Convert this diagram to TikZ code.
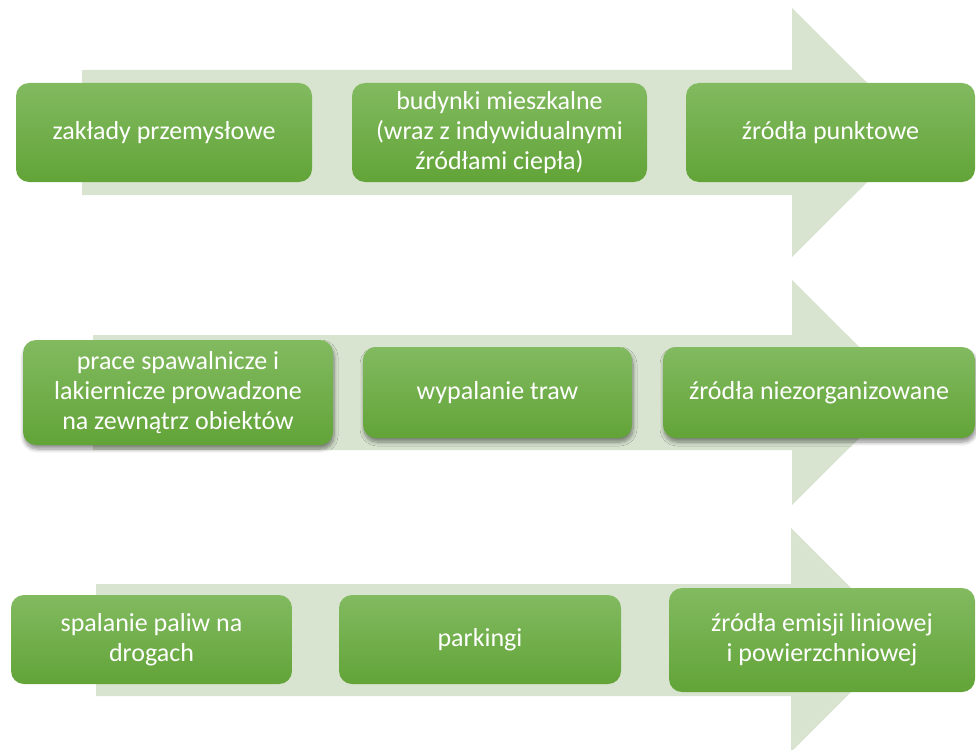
\documentclass[tikz,border=0pt]{standalone}
\usepackage{fontspec}
\setmainfont{Carlito}
\usetikzlibrary{shadows.blur}
\definecolor{arrowgreen}{RGB}{216,228,208}
\definecolor{boxtop}{RGB}{130,186,96}
\definecolor{boxbot}{RGB}{98,164,56}
\tikzset{
  gbox/.style={rectangle, rounded corners=13pt, top color=boxtop, bottom color=boxbot,
    draw=none, text=white, align=center, inner sep=2pt,
    font=\fontsize{26}{30}\selectfont},
  hbox/.style={gbox},
  sbox/.style={gbox, blur shadow={shadow xshift=1pt, shadow yshift=-4pt, shadow blur steps=6, shadow opacity=45, shadow blur radius=4pt}},
  bgarrow/.style={fill=arrowgreen, draw=none}
}
\begin{document}
\begin{tikzpicture}[x=1pt,y=-1pt]
\useasboundingbox (0,0) rectangle (976,749);
% background arrows
\fill[bgarrow] (82,70) -- (792,70) -- (792,8) -- (917,132.5) -- (792,257) -- (792,195) -- (82,195) -- cycle;
\fill[bgarrow] (93,335) -- (792,335) -- (792,280) -- (905,392.5) -- (792,505) -- (792,450) -- (93,450) -- cycle;
\fill[bgarrow] (96,584) -- (791,584) -- (791,528) -- (903,640) -- (791,752) -- (791,696) -- (96,696) -- cycle;
% row 1
\node[gbox, minimum width=296pt, minimum height=99pt] (b11) at (164,132.5) {zakłady przemysłowe};
\node[gbox, minimum width=295pt, minimum height=99pt] (b12) at (499.5,132.5) {budynki mieszkalne\\(wraz z indywidualnymi\\źródłami ciepła)};
\node[hbox, minimum width=289pt, minimum height=99pt] (b13) at (830.5,132.5) {źródła punktowe};
% row 2
\node[sbox, minimum width=310pt, minimum height=105pt] (b21) at (178,392.5) {prace spawalnicze i\\lakiernicze prowadzone\\na zewnątrz obiektów};
\node[sbox, minimum width=269pt, minimum height=91pt] (b22) at (497.5,392.5) {wypalanie traw};
\node[sbox, minimum width=312pt, minimum height=91pt] (b23) at (819,392.5) {źródła niezorganizowane};
% row 3
\node[gbox, minimum width=281pt, minimum height=89pt] (b31) at (151.5,639.5) {spalanie paliw na\\drogach};
\node[gbox, minimum width=282pt, minimum height=89pt] (b32) at (480,639.5) {parkingi};
\node[hbox, minimum width=306pt, minimum height=104pt] (b33) at (822,640) {źródła emisji liniowej\\i powierzchniowej};
\end{tikzpicture}
\end{document}
